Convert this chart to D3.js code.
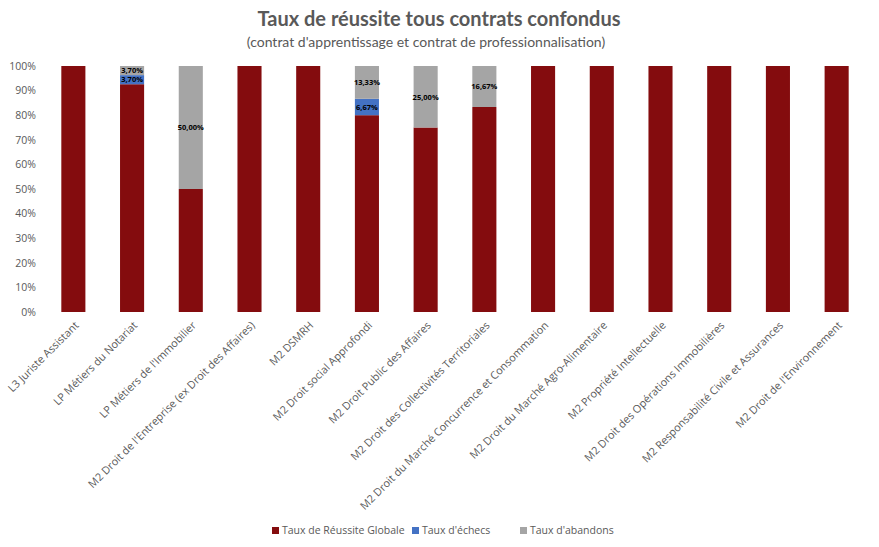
<!DOCTYPE html>
<html><head><meta charset="utf-8">
<script src="https://cdn.jsdelivr.net/npm/d3@7"></script>
<style>body{margin:0;background:#fff}</style>
</head><body>
<svg id="c" width="879" height="547"></svg>
<script>
const categories = ["L3 Juriste Assistant","LP Métiers du Notariat","LP Métiers de l'Immobilier","M2 Droit de l'Entreprise (ex Droit des Affaires)","M2 DSMRH","M2 Droit social Approfondi","M2 Droit Public des Affaires","M2 Droit des Collectivités Territoriales","M2 Droit du Marché Concurrence et Consommation","M2 Droit du Marché Agro-Alimentaire","M2 Propriété Intellectuelle","M2 Droit des Opérations Immobilières","M2 Responsabilité Civile et Assurances","M2 Droit de l'Environnement"];
const reussite = [100,92.59,50,100,100,80,75,83.33,100,100,100,100,100,100];
const echecs = [0,3.70,0,0,0,6.67,0,0,0,0,0,0,0,0];
const abandons = [0,3.70,50,0,0,13.33,25,16.67,0,0,0,0,0,0];
const seriesNames = ["Taux de Réussite Globale","Taux d'échecs","Taux d'abandons"];
const colors = ["#840c0e","#4472c4","#a5a5a5"];
const yTicks = [0,10,20,30,40,50,60,70,80,90,100];

const svg = d3.select("#c");
const x = d3.scaleBand().domain(categories).range([44,866]).paddingInner(0.59).paddingOuter(0.295);
const y = d3.scaleLinear().domain([0,100]).range([312,66]);

svg.append("text").attr("x",439).attr("y",26).attr("text-anchor","middle")
  .attr("font-family","Lato, sans-serif").attr("font-weight","bold").attr("font-size",20).attr("fill","#595959")
  .text("Taux de réussite tous contrats confondus");
svg.append("text").attr("x",426).attr("y",47).attr("text-anchor","middle")
  .attr("font-family","Lato, sans-serif").attr("font-size",14).attr("fill","#595959")
  .text("(contrat d'apprentissage et contrat de professionnalisation)");

const yAxis = d3.axisLeft(y).tickValues(yTicks).tickFormat(d=>d+"%").tickSize(0).tickPadding(8);
const gy = svg.append("g").attr("transform","translate(44,0)").call(yAxis);
gy.select(".domain").remove();
gy.selectAll("text").attr("font-family","'Open Sans', sans-serif").attr("font-size",10.5).attr("fill","#595959");

const data = categories.map((c,i)=>({cat:c, r:reussite[i], e:echecs[i], a:abandons[i]}));
const stack = d3.stack().keys(["r","e","a"])(data);
stack.forEach((s,si)=>{
  svg.append("g").selectAll("rect").data(s).join("rect")
    .attr("x",d=>x(d.data.cat)).attr("width",x.bandwidth())
    .attr("y",d=>y(d[1])).attr("height",d=>y(d[0])-y(d[1]))
    .attr("fill",colors[si]);
  if(si>0){
    svg.append("g").selectAll("text").data(s.filter(d=>d[1]-d[0]>0)).join("text")
      .attr("x",d=>x(d.data.cat)+x.bandwidth()/2).attr("y",d=>y((d[0]+d[1])/2)+2.8)
      .attr("text-anchor","middle").attr("font-family","'Open Sans', sans-serif")
      .attr("font-weight","bold").attr("font-size",7.5).attr("fill","#000")
      .text(d=>d3.format(".2f")(d[1]-d[0]).replace(".",",")+"%");
  }
});

const xAxis = d3.axisBottom(x).tickSize(0).tickPadding(0);
const gx = svg.append("g").attr("transform","translate(0,312)").call(xAxis);
gx.select(".domain").remove();
gx.selectAll("text").attr("font-family","'Open Sans', sans-serif").attr("font-size",10.8).attr("fill","#595959")
  .attr("text-anchor","end").attr("dy",0)
  .attr("transform","translate(6,14) rotate(-45)");

const legend = svg.append("g");
const lx = [272,412,520];
seriesNames.forEach((n,i)=>{
  legend.append("rect").attr("x",lx[i]).attr("y",527).attr("width",7).attr("height",7).attr("fill",colors[i]);
  legend.append("text").attr("x",lx[i]+10).attr("y",534).attr("font-family","'Open Sans', sans-serif")
    .attr("font-size",10.5).attr("fill","#595959").text(n);
});
</script>
</body></html>
